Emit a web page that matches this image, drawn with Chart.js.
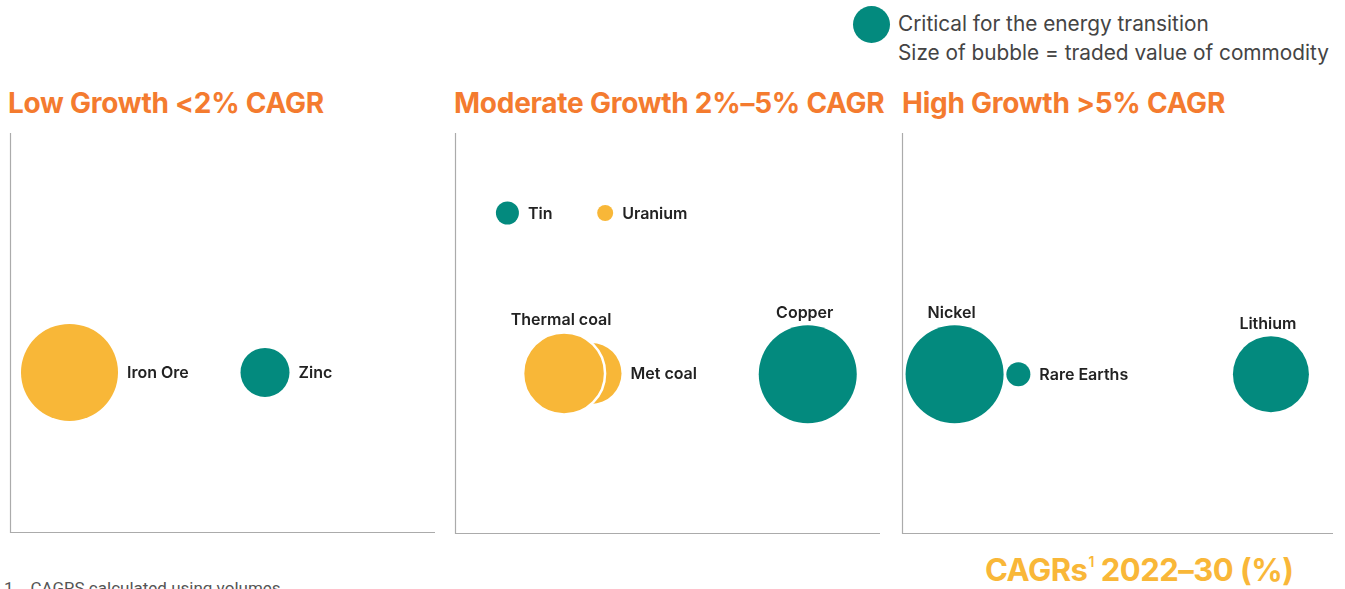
<!DOCTYPE html>
<html>
<head>
<meta charset="utf-8">
<script src="https://cdn.jsdelivr.net/npm/chart.js@4.4.1/dist/chart.umd.min.js"></script>
<style>
  html, body { margin: 0; padding: 0; background: #fff; }
  body { width: 1345px; height: 589px; position: relative; overflow: hidden; font-family: Inter, "Noto Sans", sans-serif; }
  .title { position: absolute; color: #F47B2F; font-weight: 700; font-size: 28px; line-height: 30px; white-space: nowrap; letter-spacing: -0.25px; }
  .panel { position: absolute; }
  .legend { position: absolute; left: 853px; top: 6px; }
  .legend .dot { position: absolute; left: 0; top: 0; width: 37px; height: 37px; border-radius: 50%; background: #038A7E; }
  .legend .txt { position: absolute; left: 45px; top: 3px; font-size: 20.8px; line-height: 29px; color: #444; white-space: nowrap; }
  .axisTitle { position: absolute; left: 985px; top: 544px; color: #F9B738; font-weight: 700; font-size: 31px; line-height: 36px; white-space: nowrap; letter-spacing: -0.5px; }
  .axisTitle sup { font-size: 14px; vertical-align: 14px; font-weight: 600; margin-left: 1px; margin-right: 7px; }
  .foot { position: absolute; left: 4px; top: 578px; color: #555; font-family: Roboto, sans-serif; font-size: 17px; line-height: 20px; white-space: nowrap; }
</style>
</head>
<body>

<div class="legend">
  <div class="dot"></div>
  <div class="txt">Critical for the energy transition<br>Size of bubble = traded value of commodity</div>
</div>

<div class="title" style="left:8px; top:88px;">Low Growth &lt;2% CAGR</div>
<div class="title" style="left:454px; top:88px;">Moderate Growth 2%–5% CAGR</div>
<div class="title" style="left:902px; top:88px;">High Growth &gt;5% CAGR</div>

<canvas id="lowChart" class="panel"></canvas>
<canvas id="modChart" class="panel"></canvas>
<canvas id="highChart" class="panel"></canvas>

<div class="axisTitle">CAGRs<sup>1</sup>2022–30 (%)</div>
<div class="foot">1&nbsp;&nbsp;&nbsp;&nbsp;CAGRS calculated using volumes</div>

<script>
// Low growth panel (CAGR 0-2%)
const lowNames = ['Iron Ore', 'Zinc'];
const lowCagr = [0.28, 1.2];
const lowRow = [40, 40];
const lowSize = [48.5, 24.5];
const lowCritical = [false, true];
const lowLabelPos = ['right', 'right'];

// Moderate growth panel (CAGR 2-5%)
const modNames = ['Tin', 'Uranium', 'Met coal', 'Thermal coal', 'Copper'];
const modCagr = [2.37, 3.06, 2.96, 2.77, 4.49];
const modRow = [80, 80, 39.9, 39.9, 39.7];
const modSize = [11.5, 8, 30.5, 41, 49];
const modCritical = [true, false, false, false, true];
const modLabelPos = ['right', 'right', 'right', 'top', 'top'];

// High growth panel (CAGR >5%)
const highNames = ['Nickel', 'Rare Earths', 'Lithium'];
const highCagr = [5.61, 6.35, 9.28];
const highRow = [39.7, 39.7, 39.7];
const highSize = [49, 12, 38];
const highCritical = [true, true, true];
const highLabelPos = ['top', 'right', 'top'];

const TEAL = '#038A7E';
const YELLOW = '#F8B738';
const AXIS = '#ABABAB';

// draws the left and bottom axis lines plus the bubble labels
const panelDecor = {
  id: 'panelDecor',
  afterDraw(chart) {
    const ctx = chart.ctx;
    const a = chart.chartArea;
    ctx.save();
    ctx.strokeStyle = AXIS;
    ctx.lineWidth = 1.2;
    ctx.beginPath();
    ctx.moveTo(a.left + 0.5, a.top);
    ctx.lineTo(a.left + 0.5, a.bottom + 0.5);
    ctx.lineTo(a.right, a.bottom + 0.5);
    ctx.stroke();

    const ds = chart.data.datasets[0];
    const meta = chart.getDatasetMeta(0);
    ctx.fillStyle = '#222';
    ctx.font = '600 16px Inter, "Noto Sans", sans-serif';
    meta.data.forEach((el, i) => {
      const r = ds.data[i].r;
      const pos = ds.labelPos[i];
      if (pos === 'top') {
        ctx.textAlign = 'center';
        ctx.textBaseline = 'middle';
        ctx.fillText(ds.names[i], el.x - 3, el.y - r - 12);
      } else {
        ctx.textAlign = 'left';
        ctx.textBaseline = 'middle';
        ctx.fillText(ds.names[i], el.x + r + 9, el.y + 1);
      }
    });
    ctx.restore();
  }
};

function makePanel(id, box, xMin, xMax, names, cagr, row, size, critical, labelPos) {
  const canvas = document.getElementById(id);
  canvas.style.left = box.left + 'px';
  canvas.style.top = box.top + 'px';
  canvas.width = box.width;
  canvas.height = box.height;
  canvas.style.width = box.width + 'px';
  canvas.style.height = box.height + 'px';

  const points = names.map((n, i) => ({ x: cagr[i], y: row[i], r: size[i] }));

  new Chart(canvas, {
    type: 'bubble',
    data: {
      datasets: [{
        names: names,
        labelPos: labelPos,
        data: points,
        backgroundColor: critical.map(c => c ? TEAL : YELLOW),
        borderColor: names.map(n => n === 'Thermal coal' ? '#ffffff' : 'rgba(0,0,0,0)'),
        borderWidth: names.map(n => n === 'Thermal coal' ? 2.5 : 0),
        hoverRadius: 0,
        clip: false
      }]
    },
    options: {
      responsive: false,
      animation: false,
      events: [],
      layout: { padding: box.pad, autoPadding: false },
      scales: {
        x: { type: 'linear', min: xMin, max: xMax, display: false },
        y: { type: 'linear', min: 0, max: 100, display: false }
      },
      plugins: {
        legend: { display: false },
        tooltip: { enabled: false }
      }
    },
    plugins: [panelDecor]
  });
}

makePanel('lowChart', { left: 0, top: 120, width: 445, height: 420, pad: { left: 10, right: 10, top: 13, bottom: 8 } },
  0, 2, lowNames, lowCagr, lowRow, lowSize, lowCritical, lowLabelPos);
makePanel('modChart', { left: 445, top: 120, width: 445, height: 420, pad: { left: 10, right: 10, top: 13, bottom: 7 } },
  2, 5, modNames, modCagr, modRow, modSize, modCritical, modLabelPos);
makePanel('highChart', { left: 892, top: 120, width: 451, height: 420, pad: { left: 10, right: 10, top: 13, bottom: 7 } },
  5, 10, highNames, highCagr, highRow, highSize, highCritical, highLabelPos);
</script>
</body>
</html>
